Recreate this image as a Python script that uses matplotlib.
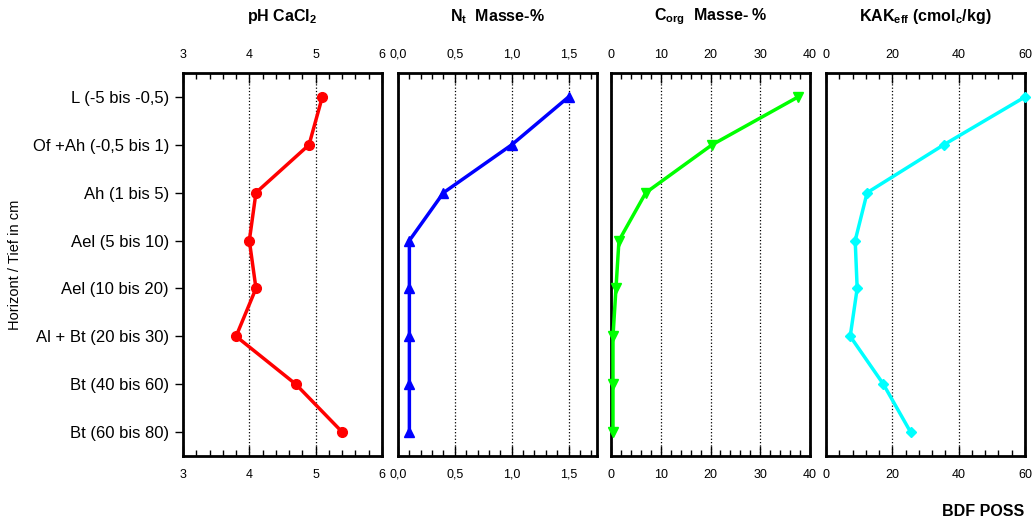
import matplotlib.pyplot as plt
from matplotlib.ticker import MultipleLocator, FuncFormatter

plt.rcParams['font.family'] = ['Liberation Sans', 'DejaVu Sans']
plt.rcParams['mathtext.fontset'] = 'custom'
plt.rcParams['mathtext.rm'] = 'Liberation Sans'
plt.rcParams['mathtext.bf'] = 'Liberation Sans:bold'

horizons = ["L (-5 bis -0,5)", "Of +Ah (-0,5 bis 1)", "Ah (1 bis 5)", "Ael (5 bis 10)",
            "Ael (10 bis 20)", "Al + Bt (20 bis 30)", "Bt (40 bis 60)", "Bt (60 bis 80)"]
ph = [5.1, 4.9, 4.1, 4.0, 4.1, 3.8, 4.7, 5.4]
nt = [1.5, 1.0, 0.4, 0.1, 0.1, 0.1, 0.1, 0.1]
corg = [37.6, 20.3, 7.0, 1.6, 1.0, 0.4, 0.4, 0.4]
kak = [60.0, 35.5, 12.4, 8.8, 9.4, 7.3, 17.3, 25.5]

panels = [
    (ph, r"pH CaCl$_\mathbf{2}$", "red", "o", (3, 6), 1, 0.2, "{:.0f}"),
    (nt, r"N$_\mathbf{t}$  Masse-%", "blue", "^", (0, 1.75), 0.5, 0.1, "{:.1f}"),
    (corg, r"C$_\mathbf{org}$  Masse- %", "lime", "v", (0, 40), 10, 2, "{:.0f}"),
    (kak, r"KAK$_\mathbf{eff}$ (cmol$_\mathbf{c}$/kg)", "cyan", "D", (0, 60), 20, 4, "{:.0f}"),
]

fig = plt.figure(figsize=(10.33, 5.22), dpi=100)
lefts = [183, 398, 611, 826]
width = 199
ypos = list(range(len(horizons)))

for i, (vals, title, col, mk, xlim, major, minor, fmt) in enumerate(panels):
    ax = fig.add_axes([lefts[i] / 1033, 1 - 456 / 522, width / 1033, (456 - 73) / 522])
    ax.plot(vals, ypos, color=col, marker=mk, lw=2.5, ms=7 if mk != "D" else 5.5,
            clip_on=False, zorder=3)
    ax.set_xlim(*xlim)
    ax.set_ylim(7.5, -0.5)
    ax.xaxis.set_major_locator(MultipleLocator(major))
    ax.xaxis.set_minor_locator(MultipleLocator(minor))
    ax.xaxis.set_major_formatter(FuncFormatter(lambda v, p, f=fmt: f.format(v).replace(".", ",")))
    ax.tick_params(axis="x", which="both", direction="in", top=True, bottom=True,
                   labeltop=True, labelbottom=True, labelsize=9, pad=9)
    ax.tick_params(axis="x", which="major", length=7, width=1)
    ax.tick_params(axis="x", which="minor", length=4, width=1)
    ax.grid(axis="x", which="major", color="black", ls=":", lw=0.9)
    for s in ax.spines.values():
        s.set_linewidth(2)
    if i == 0:
        ax.set_yticks(ypos)
        ax.set_yticklabels(horizons, fontsize=12)
        ax.tick_params(axis="y", direction="out", length=6, width=1, pad=4)
        ax.set_ylabel("Horizont / Tief in cm", fontsize=10.5, labelpad=8)
    else:
        ax.set_yticks([])
    fig.text((lefts[i] + width / 2) / 1033, 1 - 17 / 522, title, ha="center", va="center",
             fontsize=11.5, fontweight="bold")

fig.text(1024 / 1033, 1 - 512 / 522, "BDF POSS", ha="right", va="center",
         fontsize=11.5, fontweight="bold")

plt.savefig("out.png", dpi=100)
